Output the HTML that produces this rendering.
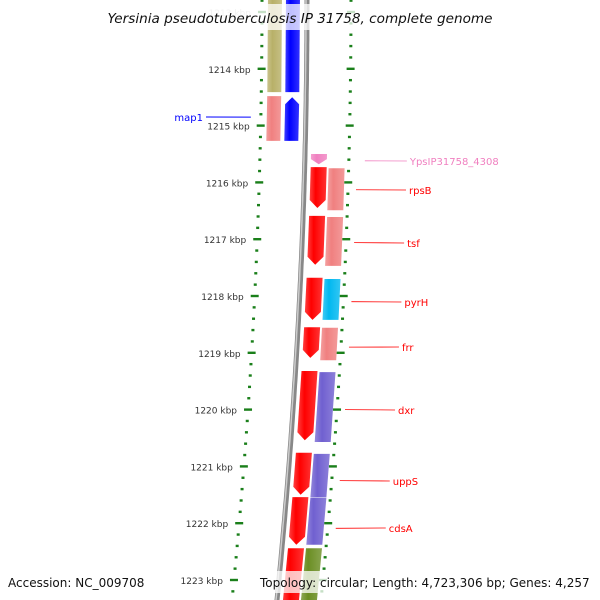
<!DOCTYPE html>
<html><head><meta charset="utf-8"><style>
html,body{margin:0;padding:0;background:#fff;}
svg{display:block;font-family:"DejaVu Sans","Liberation Sans",sans-serif;}
</style></head><body>
<svg id="c" width="600" height="600"></svg>
<script>
const tickKbp=[1213,1214,1215,1216,1217,1218,1219,1220,1221,1222,1223];
const geneStart=[1212.5,1214.48,1212.5,1214.5,1215.5,1215.73,1216.59,1217.68,1218.55,1219.32,1220.76,1221.54,1222.44,1215.75,1216.61,1217.70,1218.56,1219.34,1220.78,1221.55,1222.44];
const geneEnd=[1214.41,1215.27,1214.41,1215.27,1215.68,1216.45,1217.45,1218.42,1219.09,1220.54,1221.50,1222.38,1223.5,1216.49,1217.47,1218.42,1219.13,1220.57,1221.54,1222.38,1223.5];
const geneLane=[-2,-2,-1,-1,1,1,1,1,1,1,1,1,1,2,2,2,2,2,2,2,2];
const geneArrow=[0,0,0,-1,1,1,1,1,1,1,1,1,0,0,0,0,0,0,0,0,0];
const geneColor=["#b8b068","#f08080","#0000ff","#0000ff","#f080c0","#ff0000","#ff0000","#ff0000","#ff0000","#ff0000","#ff0000","#ff0000","#ff0000","#f08080","#f08080","#00b8f0","#f08080","#7060d0","#7060d0","#7060d0","#6b8e23"];
const labelNames=["map1","YpsIP31758_4308","rpsB","tsf","pyrH","frr","dxr","uppS","cdsA"];
const labelKbp=[1214.85,1215.62,1216.13,1217.06,1218.1,1218.9,1220.0,1221.25,1222.09];
const labelY=[117,161,190,243,302,347,410,481,528];
const labelColor=["#0000ff","#f080c0","#ff0000","#ff0000","#ff0000","#ff0000","#ff0000","#ff0000","#ff0000"];
const labelSide=[-1,1,1,1,1,1,1,1,1];

const S="http://www.w3.org/2000/svg", svg=document.getElementById('c');
const yOf=k=>12+(k-1213)*56.8;
const bx=y=>307-30*(y/600)*(y/600);
function el(t,a,p){const e=document.createElementNS(S,t);for(const k in a)e.setAttribute(k,a[k]);(p||svg).appendChild(e);return e;}
const defs=el('defs',{});
const laneOff={"-2":[-39,-25],"-1":[-21,-7],"1":[6,22],"2":[24,40]};
let bp="";for(let y=-5;y<=605;y+=5)bp+=(y<0?"M":"L")+bx(y).toFixed(1)+" "+y;
const bb=el('path',{d:bp,stroke:"#888",'stroke-width':5,fill:"none"});

el('path',{d:bp,stroke:"#ccc",'stroke-width':1.5,fill:"none",transform:"translate(-1,0)"});
for(let k=1212.8;k<=1223.4;k+=0.2){const y=yOf(k);if(y<-3||y>603)continue;
 const major=Math.abs(k-Math.round(k))<0.01;
 for(const off of [-45,44]){const x=bx(y)+off;const w=major?8:3;
  const t=el('rect',{x:x-w/2,y:y-1.2,width:w,height:2.4,fill:"#1a7f1a"});
  }}
tickKbp.forEach(k=>{const y=yOf(k);const t=el('text',{x:bx(y)-56,y:y+4,'font-size':9,'text-anchor':'end',fill:k==1213?"#ccc":"#333"});t.textContent=k+" kbp";
 });
geneStart.forEach((s,i)=>{const y1=Math.max(-5,yOf(s)),y2=Math.min(605,yOf(geneEnd[i]));
 const o=laneOff[geneLane[i]];const c=geneColor[i];
 const id="g"+i;const g=el('linearGradient',{id:id,x1:0,x2:1,y1:0,y2:0},defs);
 el('stop',{offset:0,'stop-color':c,'stop-opacity':0.75},g);el('stop',{offset:0.35,'stop-color':c},g);el('stop',{offset:1,'stop-color':c,'stop-opacity':0.8},g);
 const a=(o[0]),b=(o[1]),m=(a+b)/2;let pts;
 if(geneArrow[i]==1){const h=Math.min(8,(y2-y1)/2);pts=[[a,y1],[b,y1],[b,y2-h],[m,y2],[a,y2-h]];}
 else if(geneArrow[i]==-1){const h=7;pts=[[m,y1],[b,y1+h],[b,y2],[a,y2],[a,y1+h]];}
 else pts=[[a,y1],[b,y1],[b,y2],[a,y2]];
 const p=el('polygon',{points:pts.map(q=>(bx(q[1])+q[0]).toFixed(1)+","+q[1].toFixed(1)).join(" "),fill:"url(#"+id+")"});
 });
labelNames.forEach((n,i)=>{const y0=yOf(labelKbp[i]);const ly=labelY[i];
 if(labelSide[i]<0){el('line',{x1:bx(y0)-55,y1:y0,x2:206,y2:ly,stroke:labelColor[i]});
  const t=el('text',{x:203,y:ly+4,'font-size':10,'text-anchor':'end',fill:labelColor[i]});t.textContent=n;
  }
 else{const x0=bx(y0)+52;const lx=x0+50;el('line',{x1:x0+(i==1?8:0),y1:y0,x2:lx,y2:ly,stroke:labelColor[i],'stroke-width':0.8});
  const t=el('text',{x:lx+3,y:ly+4,'font-size':10,fill:labelColor[i]});t.textContent=n;
  }});
el('rect',{x:100,y:4,width:400,height:26,fill:"#fff",'fill-opacity':0.75});
const tt=el('text',{x:300,y:23,'font-size':13.6,'font-style':'italic','text-anchor':'middle',fill:"#111"});tt.textContent="Yersinia pseudotuberculosis IP 31758, complete genome";

el('rect',{x:4,y:571,width:146,height:22,fill:"#fff",'fill-opacity':0.75});
el('rect',{x:256,y:571,width:340,height:22,fill:"#fff",'fill-opacity':0.75});
const a1=el('text',{x:8,y:587,'font-size':12,fill:"#111"});a1.textContent="Accession: NC_009708";

const a2=el('text',{x:260,y:587,'font-size':12,fill:"#111"});a2.textContent="Topology: circular; Length: 4,723,306 bp; Genes: 4,257";

</script>
</body></html>
